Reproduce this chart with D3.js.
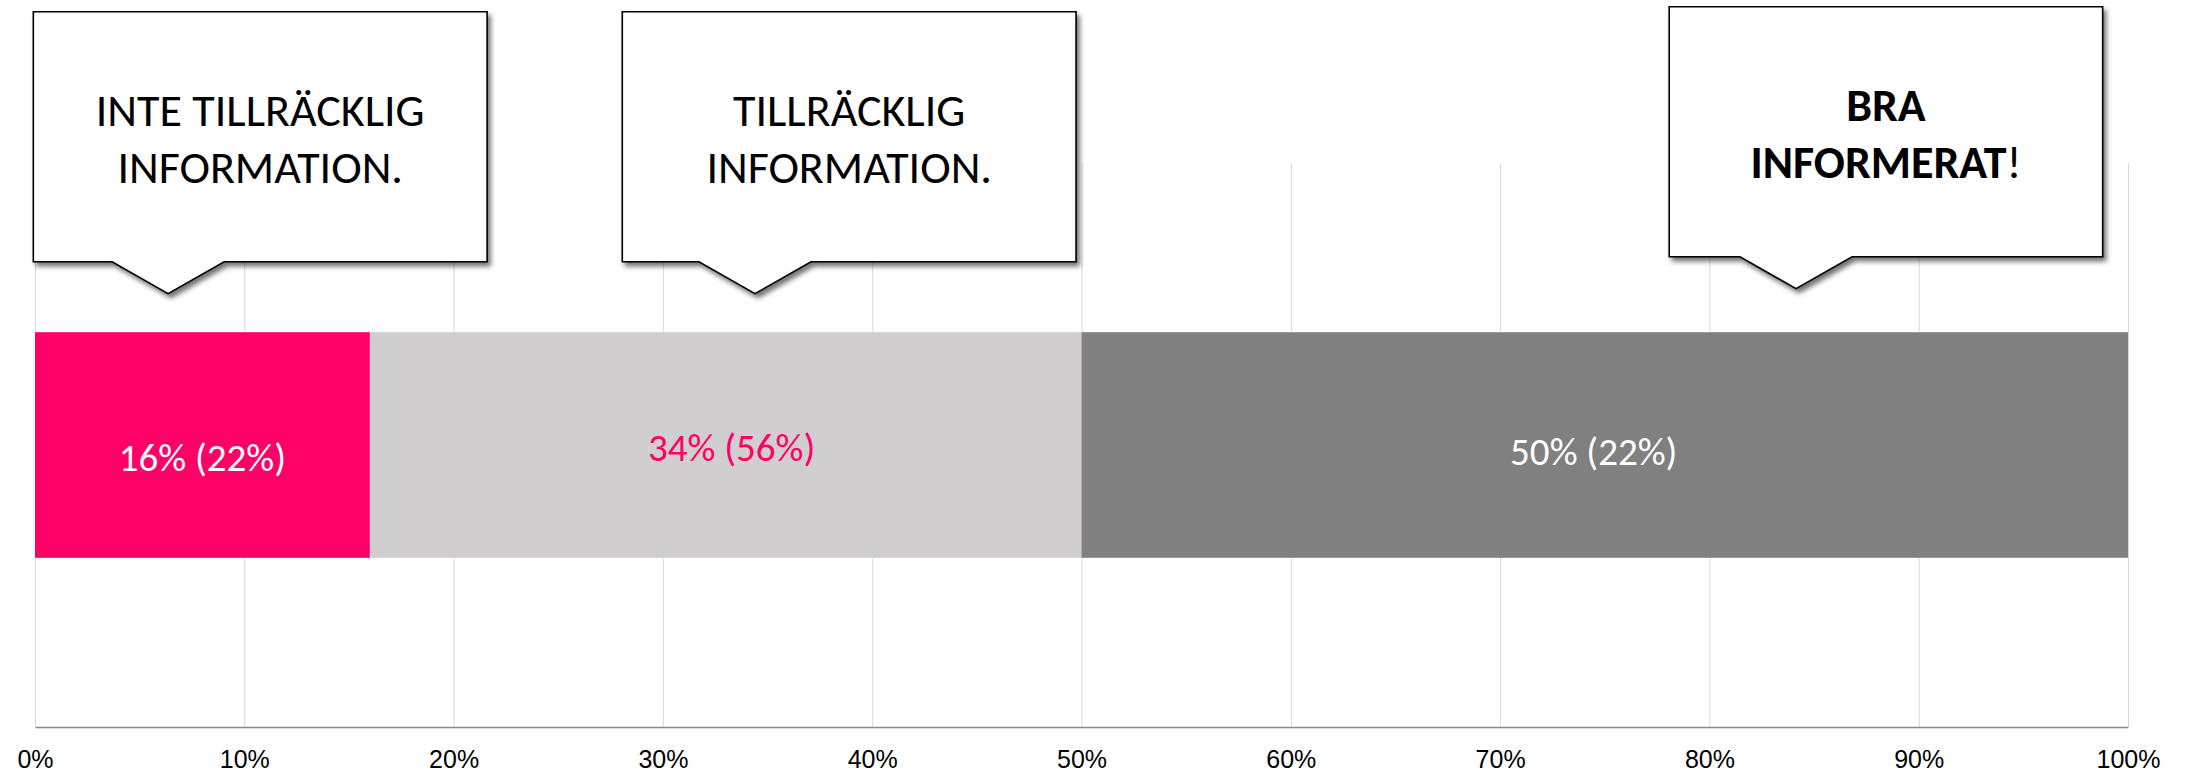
<!DOCTYPE html>
<html>
<head>
<meta charset="utf-8">
<script src="https://cdn.jsdelivr.net/npm/d3@7"></script>
<style>
  body { margin: 0; background: #fff; }
  svg { display: block; }
</style>
</head>
<body>
<div id="chart"></div>
<script>
// data
const categories = ["Inte tillräcklig information", "Tillräcklig information", "Bra informerat"];
const shares = [16, 34, 50];        // current share, %
const previousShares = [22, 56, 22]; // value in parentheses, %
const barColors = ["#FF0066", "#D0CECE", "#808080"];
const labelColors = ["#FFFFFF", "#FF0066", "#FFFFFF"];
const tickValues = [0, 10, 20, 30, 40, 50, 60, 70, 80, 90, 100];

// callout texts (one entry per line)
const calloutLines = [
  [["INTE TILLRÄCKLIG"], ["INFORMATION."]],
  [["TILLRÄCKLIG"], ["INFORMATION."]],
  [["BRA"], ["INFORMERAT", "!"]]
];

draw_chart();

function draw_chart() {
  const width = 2188, height = 772;
  const margin = {top: 163, right: 60, bottom: 45, left: 35};
  const plotW = 2128 - margin.left;
  const plotH = 727 - margin.top;

  const svg = d3.select("#chart").append("svg")
      .attr("width", width)
      .attr("height", height);

  const defs = svg.append("defs");
  const shadow = defs.append("filter")
      .attr("id", "shadow")
      .attr("x", "-10%").attr("y", "-10%")
      .attr("width", "130%").attr("height", "130%");
  shadow.append("feDropShadow")
      .attr("dx", 3).attr("dy", 4)
      .attr("stdDeviation", 2.5)
      .attr("flood-color", "#000")
      .attr("flood-opacity", 0.55);

  const x = d3.scaleLinear().domain([0, 100]).range([0, plotW]);
  const y = d3.scaleBand().domain(["all"]).range([0, plotH])
      .paddingInner(0).paddingOuter(0.75);

  const g = svg.append("g")
      .attr("transform", `translate(${margin.left},${margin.top})`);

  // gridlines
  g.append("g")
    .selectAll("line")
    .data(tickValues)
    .join("line")
      .attr("x1", d => x(d) + 0.5)
      .attr("x2", d => x(d) + 0.5)
      .attr("y1", 0)
      .attr("y2", plotH)
      .attr("stroke", "#D9D9D9")
      .attr("stroke-width", 1);

  // stacked segments
  const starts = d3.cumsum([0].concat(shares)).slice(0, shares.length);
  const segs = shares.map((v, i) => ({
    cat: categories[i], value: v, prev: previousShares[i],
    x0: starts[i], x1: starts[i] + v, color: barColors[i], tc: labelColors[i]
  }));

  g.append("g")
    .selectAll("rect")
    .data(segs)
    .join("rect")
      .attr("x", d => x(d.x0))
      .attr("width", d => x(d.x1) - x(d.x0))
      .attr("y", y("all"))
      .attr("height", y.bandwidth())
      .attr("fill", d => d.color);

  // label nudges as moved by hand in the original
  const nudge = [[0, 12], [6, 2], [-11, 6]];
  g.append("g")
    .selectAll("text")
    .data(segs)
    .join("text")
      .attr("x", (d, i) => x((d.x0 + d.x1) / 2) + nudge[i][0])
      .attr("y", (d, i) => y("all") + y.bandwidth() / 2 + nudge[i][1])
      .attr("dy", "0.35em")
      .attr("text-anchor", "middle")
      .style("font-family", "Calibri, Carlito, Lato, sans-serif")
      .style("font-size", "39px")
      .attr("fill", d => d.tc)
      .text(d => `${d.value}% (${d.prev}%)`);

  // x axis
  const axis = g.append("g")
      .attr("transform", `translate(0,${plotH})`)
      .call(d3.axisBottom(x)
        .tickValues(tickValues)
        .tickSize(0)
        .tickPadding(23)
        .tickFormat(d => d + "%"));
  axis.select(".domain")
      .attr("stroke", "#898989")
      .attr("stroke-width", 1.5);
  axis.selectAll("text")
      .style("font-family", "Arial, 'Liberation Sans', sans-serif")
      .style("font-size", "25px")
      .attr("fill", "#000");

  // callouts: box edges and pointer tip in axis units (%)
  const callouts = [
    {left: -0.08, right: 21.6, tip: 6.36, top: 11.7},
    {left: 28.06, right: 49.74, tip: 34.4, top: 11.7},
    {left: 78.08, right: 98.79, tip: 84.14, top: 6.7}
  ];
  const boxH = 250, tipHalf = 56, tipDepth = 32;

  const co = svg.append("g")
      .attr("transform", `translate(${margin.left},0)`)
    .selectAll("g")
    .data(callouts)
    .join("g");

  co.append("path")
      .attr("d", d => {
        const l = x(d.left), r = x(d.right), t = d.top, b = d.top + boxH, tp = x(d.tip);
        return `M${l},${t}H${r}V${b}H${tp + tipHalf}L${tp},${b + tipDepth}L${tp - tipHalf},${b}H${l}Z`;
      })
      .attr("fill", "#fff")
      .attr("stroke", "#000")
      .attr("stroke-width", 1.6)
      .attr("stroke-linejoin", "miter")
      .attr("filter", "url(#shadow)");

  co.each(function(d, i) {
    const cx = (x(d.left) + x(d.right)) / 2;
    const lines = calloutLines[i];
    const t = d3.select(this).selectAll("text.line")
      .data(lines)
      .join("text")
        .attr("class", "line")
        .attr("x", cx)
        .attr("y", (ln, j) => d.top + 114 + j * 57)
        .attr("text-anchor", "middle")
        .style("font-family", "Calibri, Carlito, Lato, sans-serif")
        .style("font-size", "46px")
        .attr("fill", "#000");
    t.each(function(ln) {
      d3.select(this).selectAll("tspan")
        .data(ln)
        .join("tspan")
          .style("font-weight", (s, k) => (i === 2 && k === 0) ? "bold" : "normal")
          .text(s => s);
    });
  });
}
</script>
</body>
</html>
